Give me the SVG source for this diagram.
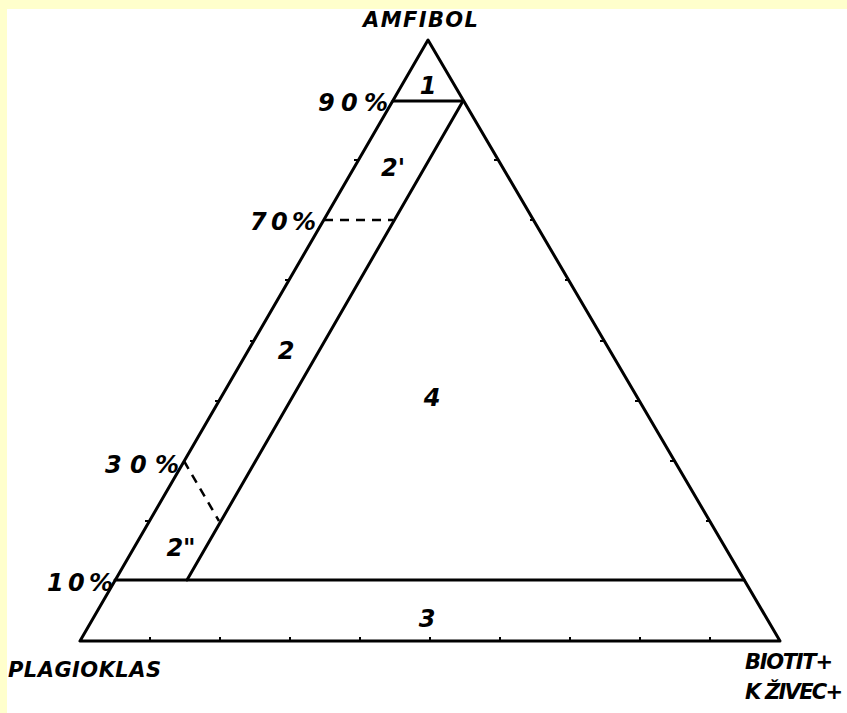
<svg xmlns="http://www.w3.org/2000/svg" width="847" height="713" viewBox="0 0 847 713">
<style>
.ln{stroke:#000;stroke-width:3;fill:none;stroke-linecap:round;stroke-linejoin:round}
.dash{stroke:#000;stroke-width:2.5;fill:none;stroke-dasharray:9 7}
.tk{stroke:#000;stroke-width:2;fill:none}
text{font-family:"DejaVu Sans","Liberation Sans",sans-serif;font-weight:bold;font-style:italic;font-size:21px;fill:#000}
.lab{font-size:24px}
.num{font-size:24px}
</style>
<rect x="0" y="0" width="847" height="713" fill="#FFFFCC"/>
<rect x="7" y="9" width="840" height="704" fill="#FFFFFF"/>
<g id="triangle">
<polygon class="ln" points="428,40 80,641 780,641"/>
</g>
<g id="connectors">
<line class="ln" x1="393" y1="101" x2="463" y2="101"/>
<line class="ln" x1="115" y1="580" x2="744" y2="580"/>
<line class="ln" x1="463" y1="101" x2="187" y2="580"/>
<line class="dash" x1="324" y1="220" x2="393" y2="220"/>
<line class="dash" x1="184" y1="461" x2="219" y2="521"/>
</g>
<g id="ticks">
<path class="tk" d="M150,641v-4M220,641v-4M290,641v-4M360,641v-4M430,641v-4M500,641v-4M570,641v-4M640,641v-4M710,641v-4"/>
<path class="tk" d="M498,160h-4M534,220h-4M569,280h-4M604,341h-4M639,401h-4M674,461h-4M710,521h-4"/>
<path class="tk" d="M358,160h-4M289,280h-4M254,341h-4M219,401h-4M149,521h-4"/>
</g>
<g id="labels">
<text x="363" y="27" textLength="115" lengthAdjust="spacing">AMFIBOL</text>
<text class="lab" x="318" y="111" textLength="70" lengthAdjust="spacing">90%</text>
<text class="lab" x="250" y="230" textLength="66" lengthAdjust="spacing">70%</text>
<text class="lab" x="105" y="473" textLength="74" lengthAdjust="spacing">30%</text>
<text class="lab" x="47" y="591" textLength="66" lengthAdjust="spacing">10%</text>
<text class="num" x="428" y="94" text-anchor="middle">1</text>
<text class="num" x="393" y="176" text-anchor="middle">2'</text>
<text class="num" x="286" y="359" text-anchor="middle">2</text>
<text class="num" x="432" y="406" text-anchor="middle">4</text>
<text class="num" x="181" y="556" text-anchor="middle">2"</text>
<text class="num" x="427" y="627" text-anchor="middle">3</text>
<text x="8" y="677" textLength="153" lengthAdjust="spacing">PLAGIOKLAS</text>
<text x="745" y="669" textLength="88" lengthAdjust="spacing">BIOTIT+</text>
<text x="745" y="699" textLength="98" lengthAdjust="spacing">K ŽIVEC+</text>
</g>
</svg>
